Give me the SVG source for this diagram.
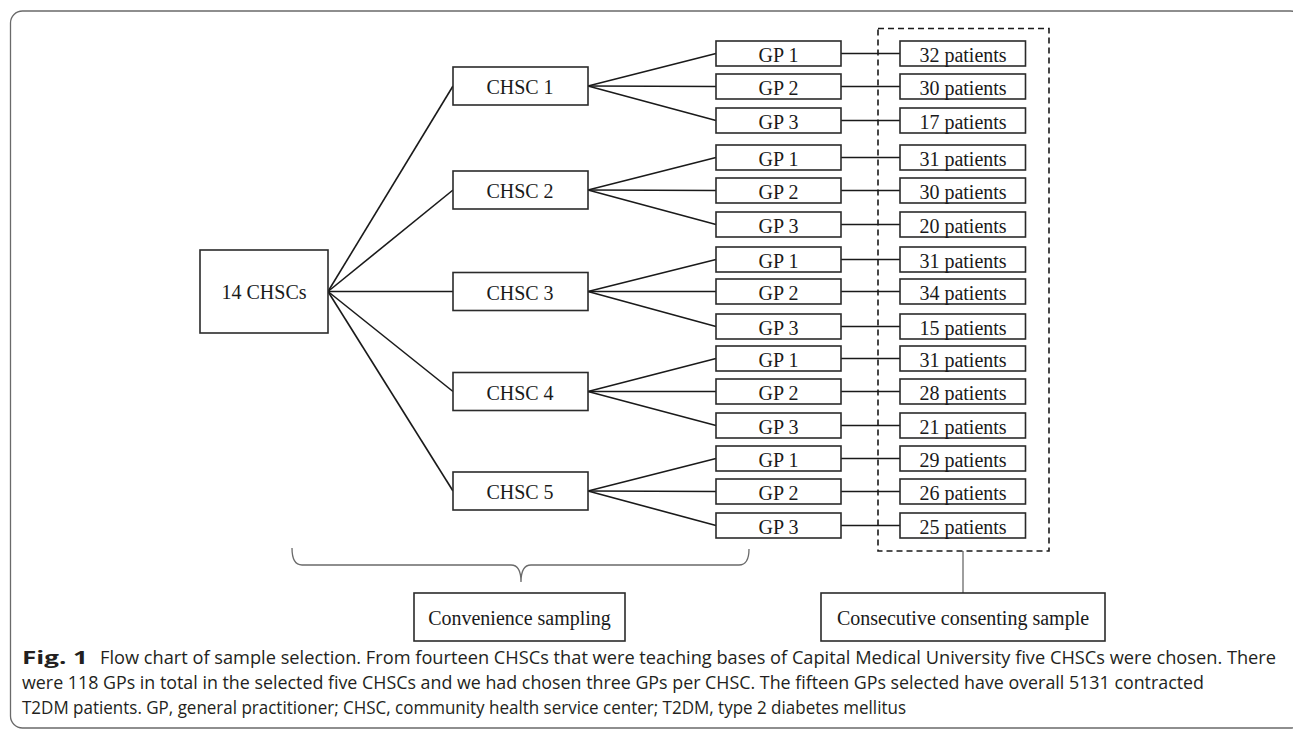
<svg xmlns="http://www.w3.org/2000/svg" width="1293" height="734" viewBox="0 0 1293 734">
<style>
.box{fill:#fff;stroke:#2b2b2b;stroke-width:1.6}
.lbl{font-family:"Liberation Serif","Times New Roman",serif;font-size:20px;fill:#1a1a1a;text-anchor:middle}
.ln{stroke:#1a1a1a;stroke-width:1.6;fill:none}
.gray{stroke:#6a6a6a;stroke-width:1.3;fill:none}
.cap{font-family:"Open Sans","Noto Sans",sans-serif;font-size:18px;fill:#231f20}
</style>
<rect x="10.5" y="11" width="1292" height="717" rx="12" ry="12" fill="#fff" stroke="#6a6a6a" stroke-width="1.3"/>

<g id="connectors">
  <line class="ln" x1="328" y1="291.5" x2="453" y2="86"/>
  <line class="ln" x1="328" y1="291.5" x2="453" y2="190"/>
  <line class="ln" x1="328" y1="291.5" x2="453" y2="291.5"/>
  <line class="ln" x1="328" y1="291.5" x2="453" y2="391.5"/>
  <line class="ln" x1="328" y1="291.5" x2="453" y2="491"/>
  <line class="ln" x1="588" y1="86" x2="716" y2="53.5"/>
  <line class="ln" x1="588" y1="86" x2="716" y2="86.5"/>
  <line class="ln" x1="588" y1="86" x2="716" y2="120.5"/>
  <line class="ln" x1="588" y1="190" x2="716" y2="157.5"/>
  <line class="ln" x1="588" y1="190" x2="716" y2="190.5"/>
  <line class="ln" x1="588" y1="190" x2="716" y2="224.5"/>
  <line class="ln" x1="588" y1="291.5" x2="716" y2="259.5"/>
  <line class="ln" x1="588" y1="291.5" x2="716" y2="291.5"/>
  <line class="ln" x1="588" y1="291.5" x2="716" y2="326.5"/>
  <line class="ln" x1="588" y1="391.5" x2="716" y2="358.5"/>
  <line class="ln" x1="588" y1="391.5" x2="716" y2="391.5"/>
  <line class="ln" x1="588" y1="391.5" x2="716" y2="425.5"/>
  <line class="ln" x1="588" y1="491" x2="716" y2="458.5"/>
  <line class="ln" x1="588" y1="491" x2="716" y2="491.5"/>
  <line class="ln" x1="588" y1="491" x2="716" y2="525.5"/>
  <line class="ln" x1="841" y1="53.5" x2="900" y2="53.5"/>
  <line class="ln" x1="841" y1="86.5" x2="900" y2="86.5"/>
  <line class="ln" x1="841" y1="120.5" x2="900" y2="120.5"/>
  <line class="ln" x1="841" y1="157.5" x2="900" y2="157.5"/>
  <line class="ln" x1="841" y1="190.5" x2="900" y2="190.5"/>
  <line class="ln" x1="841" y1="224.5" x2="900" y2="224.5"/>
  <line class="ln" x1="841" y1="259.5" x2="900" y2="259.5"/>
  <line class="ln" x1="841" y1="291.5" x2="900" y2="291.5"/>
  <line class="ln" x1="841" y1="326.5" x2="900" y2="326.5"/>
  <line class="ln" x1="841" y1="358.5" x2="900" y2="358.5"/>
  <line class="ln" x1="841" y1="391.5" x2="900" y2="391.5"/>
  <line class="ln" x1="841" y1="425.5" x2="900" y2="425.5"/>
  <line class="ln" x1="841" y1="458.5" x2="900" y2="458.5"/>
  <line class="ln" x1="841" y1="491.5" x2="900" y2="491.5"/>
  <line class="ln" x1="841" y1="525.5" x2="900" y2="525.5"/>
  <line class="gray" x1="963" y1="551" x2="963" y2="593"/>
  <path class="gray" d="M292,548 Q292,565 302,565 L511,565 Q521,565 521,582 Q521,565 531,565 L739,565 Q749,565 749,549"/>
</g>

<g id="group-consecutive">
  <rect x="878" y="28.5" width="171" height="522.5" fill="none" stroke="#1a1a1a" stroke-width="1.6" stroke-dasharray="6,4"/>
</g>

<g id="root"><rect class="box" x="200" y="250" width="128" height="83"/><text class="lbl" x="264" y="299">14 CHSCs</text></g>

<g id="chsc1"><rect class="box" x="453" y="67" width="135" height="38"/><text class="lbl" x="520" y="94">CHSC 1</text></g>
<g id="chsc2"><rect class="box" x="453" y="171" width="135" height="38"/><text class="lbl" x="520" y="198">CHSC 2</text></g>
<g id="chsc3"><rect class="box" x="453" y="272.5" width="135" height="38"/><text class="lbl" x="520" y="299.5">CHSC 3</text></g>
<g id="chsc4"><rect class="box" x="453" y="372.5" width="135" height="38"/><text class="lbl" x="520" y="399.5">CHSC 4</text></g>
<g id="chsc5"><rect class="box" x="453" y="472" width="135" height="38"/><text class="lbl" x="520" y="499">CHSC 5</text></g>

<g id="gp1-1"><rect class="box" x="716" y="41" width="125" height="25"/><text class="lbl" x="778.5" y="62">GP 1</text></g>
<g id="gp1-2"><rect class="box" x="716" y="74" width="125" height="25"/><text class="lbl" x="778.5" y="95">GP 2</text></g>
<g id="gp1-3"><rect class="box" x="716" y="108" width="125" height="25"/><text class="lbl" x="778.5" y="129">GP 3</text></g>
<g id="gp2-1"><rect class="box" x="716" y="145" width="125" height="25"/><text class="lbl" x="778.5" y="166">GP 1</text></g>
<g id="gp2-2"><rect class="box" x="716" y="178" width="125" height="25"/><text class="lbl" x="778.5" y="199">GP 2</text></g>
<g id="gp2-3"><rect class="box" x="716" y="212" width="125" height="25"/><text class="lbl" x="778.5" y="233">GP 3</text></g>
<g id="gp3-1"><rect class="box" x="716" y="247" width="125" height="25"/><text class="lbl" x="778.5" y="268">GP 1</text></g>
<g id="gp3-2"><rect class="box" x="716" y="279" width="125" height="25"/><text class="lbl" x="778.5" y="300">GP 2</text></g>
<g id="gp3-3"><rect class="box" x="716" y="314" width="125" height="25"/><text class="lbl" x="778.5" y="335">GP 3</text></g>
<g id="gp4-1"><rect class="box" x="716" y="346" width="125" height="25"/><text class="lbl" x="778.5" y="367">GP 1</text></g>
<g id="gp4-2"><rect class="box" x="716" y="379" width="125" height="25"/><text class="lbl" x="778.5" y="400">GP 2</text></g>
<g id="gp4-3"><rect class="box" x="716" y="413" width="125" height="25"/><text class="lbl" x="778.5" y="434">GP 3</text></g>
<g id="gp5-1"><rect class="box" x="716" y="446" width="125" height="25"/><text class="lbl" x="778.5" y="467">GP 1</text></g>
<g id="gp5-2"><rect class="box" x="716" y="479" width="125" height="25"/><text class="lbl" x="778.5" y="500">GP 2</text></g>
<g id="gp5-3"><rect class="box" x="716" y="513" width="125" height="25"/><text class="lbl" x="778.5" y="534">GP 3</text></g>

<g id="pt1-1"><rect class="box" x="900" y="41" width="125.5" height="25"/><text class="lbl" x="963" y="62">32 patients</text></g>
<g id="pt1-2"><rect class="box" x="900" y="74" width="125.5" height="25"/><text class="lbl" x="963" y="95">30 patients</text></g>
<g id="pt1-3"><rect class="box" x="900" y="108" width="125.5" height="25"/><text class="lbl" x="963" y="129">17 patients</text></g>
<g id="pt2-1"><rect class="box" x="900" y="145" width="125.5" height="25"/><text class="lbl" x="963" y="166">31 patients</text></g>
<g id="pt2-2"><rect class="box" x="900" y="178" width="125.5" height="25"/><text class="lbl" x="963" y="199">30 patients</text></g>
<g id="pt2-3"><rect class="box" x="900" y="212" width="125.5" height="25"/><text class="lbl" x="963" y="233">20 patients</text></g>
<g id="pt3-1"><rect class="box" x="900" y="247" width="125.5" height="25"/><text class="lbl" x="963" y="268">31 patients</text></g>
<g id="pt3-2"><rect class="box" x="900" y="279" width="125.5" height="25"/><text class="lbl" x="963" y="300">34 patients</text></g>
<g id="pt3-3"><rect class="box" x="900" y="314" width="125.5" height="25"/><text class="lbl" x="963" y="335">15 patients</text></g>
<g id="pt4-1"><rect class="box" x="900" y="346" width="125.5" height="25"/><text class="lbl" x="963" y="367">31 patients</text></g>
<g id="pt4-2"><rect class="box" x="900" y="379" width="125.5" height="25"/><text class="lbl" x="963" y="400">28 patients</text></g>
<g id="pt4-3"><rect class="box" x="900" y="413" width="125.5" height="25"/><text class="lbl" x="963" y="434">21 patients</text></g>
<g id="pt5-1"><rect class="box" x="900" y="446" width="125.5" height="25"/><text class="lbl" x="963" y="467">29 patients</text></g>
<g id="pt5-2"><rect class="box" x="900" y="479" width="125.5" height="25"/><text class="lbl" x="963" y="500">26 patients</text></g>
<g id="pt5-3"><rect class="box" x="900" y="513" width="125.5" height="25"/><text class="lbl" x="963" y="534">25 patients</text></g>

<g id="convenience"><rect class="box" x="414" y="593" width="211" height="48"/><text class="lbl" x="519.5" y="624.5">Convenience sampling</text></g>
<g id="consecutive"><rect class="box" x="821" y="593" width="284" height="48"/><text class="lbl" x="963" y="624.5">Consecutive consenting sample</text></g>

<g id="caption">
  <text class="cap" x="22" y="664" font-weight="bold" textLength="66" lengthAdjust="spacingAndGlyphs">Fig. 1</text>
  <text class="cap" x="100" y="664" textLength="1176" lengthAdjust="spacingAndGlyphs">Flow chart of sample selection. From fourteen CHSCs that were teaching bases of Capital Medical University five CHSCs were chosen. There</text>
  <text class="cap" x="22" y="689" textLength="1182" lengthAdjust="spacingAndGlyphs">were 118 GPs in total in the selected five CHSCs and we had chosen three GPs per CHSC. The fifteen GPs selected have overall 5131 contracted</text>
  <text class="cap" x="22" y="714" textLength="884" lengthAdjust="spacingAndGlyphs">T2DM patients. GP, general practitioner; CHSC, community health service center; T2DM, type 2 diabetes mellitus</text>
</g>
</svg>
